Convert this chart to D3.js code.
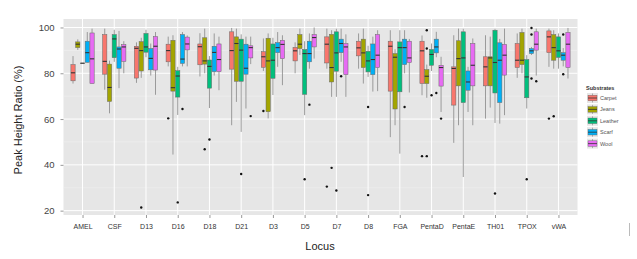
<!DOCTYPE html>
<html><head><meta charset="utf-8">
<script src="https://cdn.jsdelivr.net/npm/d3@7"></script>
<style>body{margin:0;background:#fff}svg{display:block}text{font-family:"Liberation Sans",Arial,sans-serif}</style>
</head><body>
<svg id="c" width="637" height="259"></svg>
<script>
const loci = ["AMEL","CSF","D13","D16","D18","D21","D3","D5","D7","D8","FGA","PentaD","PentaE","TH01","TPOX","vWA"];
const substrates = ["Carpet","Jeans","Leather","Scarf","Wool"];
const colors = ["#F8766D","#A3A500","#00BF7D","#00B0F6","#E76BF3"];
const yTicks = [20,40,60,80,100];
// [low whisker, Q1, median, Q3, high whisker] per locus
const carpet = [[75.5,76.7,80.2,83.8,87.5],[72.8,79.6,85.2,96.9,99.5],[75.8,77.9,90.9,91.8,93.5],[83,85,89.9,92.7,96],[78.6,83.7,91.6,92.8,97.5],[57.3,81.8,89.9,98.1,99.8],[81,82.6,87.2,89.4,95.2],[80,85.4,89.8,91.3,93.5],[82,84.5,92.7,95.9,99.5],[82,87.6,91.1,94,97.4],[52.1,72.2,91.8,94,98.8],[70.4,75.5,89.8,94,96.5],[49.6,66.1,82.1,82.8,96.6],[60.2,74.5,82.8,87.2,96.6],[78,82.5,85.7,93,97.4],[82.8,89,95.9,98.5,99.5]];
const jeans = [[90.2,91.2,92.7,93.7,94.8],[62.5,67.7,73.8,84,85.5],[78,81,89.9,93.8,95.5],[44.5,72.2,73.7,94.4,96.6],[80,84,85.4,95.5,99.5],[67.5,76.5,93,95.9,99.5],[60.3,63.2,85.4,95.3,97.4],[88,90.8,92.7,96.9,99.5],[69.7,76.2,82.5,97,98.8],[75.5,82.5,88.9,94.9,99.5],[57.3,64.4,87,88.6,90.5],[69.3,75.5,78.7,81.6,83.8],[57.3,74.5,86.4,94.2,99.5],[65,74.5,86.7,87.2,96],[80,83.8,85.7,97.8,99.5],[82,85.7,91.2,96.9,98.8]];
const leather = [[84.4,84.4,84.4,84.4,84.4],[85,86.8,95,96.9,99],[87,89.2,91.5,97.4,99],[61.8,69.6,78.8,81.1,82.8],[64.8,73.5,83,85.8,87.5],[54.4,76.5,90.1,94.9,97],[70.5,77.8,85.7,92.8,95.5],[61.7,70.8,88.6,90.4,94],[69.7,80.9,88.9,98.1,99.5],[78.4,80.6,85.4,89.6,92],[44.9,71.9,91.2,93.7,98.8],[81,83.5,88.2,90.4,93],[34.7,67.2,86.7,98.1,99.5],[58.3,71.4,84.7,98.8,99.5],[64.6,69.3,78.4,86,87.9],[82,86.9,89.8,95.9,97.4]];
const scarf = [[84.6,84.8,89,94,98],[73.5,82.2,90.6,91.5,98.5],[79,81.5,86.5,90.8,93],[83,84.3,86.2,96.9,98],[79,80.7,89.1,91.8,97.4],[64.6,79.6,82.2,92.7,96],[82.8,89,91.2,93.4,98],[82,85,88.6,94,97.4],[85,89,93,94.9,99.5],[72,79.4,86,92.8,96],[80,83.8,91.2,94.9,98.8],[87,88.9,91.5,94.9,98.1],[63.1,72.6,76.2,81,82.8],[58,67.2,85.7,93.3,95],[88,88.6,89.8,90.8,91.5],[83,85.7,87.9,89,91]];
const wool = [[75.4,75.5,86.3,97.6,99.5],[80,85.2,91.5,92.5,94],[70.6,81.4,91.8,96,98],[83,90.2,92.8,95.8,96.5],[72.6,80.7,86,92.8,96],[84,86.7,91.2,92,96],[74.8,86.4,92.6,94.4,96.6],[86.4,91.5,95.6,96.9,100],[69.7,79.4,91.5,93,97],[72.2,82.5,87.9,96.9,98.8],[71.6,84.7,86.7,94,95],[63.1,74.4,82.5,83.5,87.2],[57.3,74.5,83.5,93,95.2],[61.7,79.2,87.9,92.6,99.5],[79,90.1,92.7,98.1,99.5],[77.7,82.5,92.7,97.8,99.8]];
// outliers: [locus, substrate, value]
const outliers = [["D13","Jeans",21.4],["D16","Carpet",60.3],["D16","Leather",23.6],["D16","Scarf",64.4],["D18","Jeans",46.8],["D18","Leather",51.1],["D21","Leather",36],["D21","Wool",61.3],["D3","Carpet",63.5],["D5","Leather",33.7],["D5","Scarf",66.3],["D7","Carpet",30.5],["D7","Jeans",38.7],["D7","Leather",28.8],["D7","Scarf",78.7],["D8","Leather",65.3],["D8","Leather",26.8],["FGA","Scarf",65.3],["PentaD","Carpet",43.8],["PentaD","Jeans",43.8],["PentaD","Jeans",98.8],["PentaD","Jeans",90.8],["PentaD","Leather",70.4],["PentaD","Scarf",71.4],["PentaD","Wool",60.2],["TH01","Leather",27.5],["TPOX","Leather",33.7],["TPOX","Scarf",99.8],["TPOX","Scarf",96.9],["TPOX","Scarf",77.7],["TPOX","Wool",76.5],["vWA","Carpet",60.2],["vWA","Jeans",61.2],["vWA","Scarf",96.9],["vWA","Scarf",79.6]];

const series = [carpet, jeans, leather, scarf, wool];
const svg = d3.select("#c");
const P = {l:63.5, r:577.5, t:19, b:215};
const x = d3.scalePoint().domain(loci).range([P.l, P.r]).padding(0.6);
const step = x.step();
const xs = d3.scaleBand().domain(substrates).range([-step*0.375, step*0.375]);
const y = d3.scaleLinear().domain([18.1, 103.7]).range([P.b, P.t]);
const color = d3.scaleOrdinal().domain(substrates).range(colors);

svg.append("rect").attr("x",P.l).attr("y",P.t).attr("width",P.r-P.l).attr("height",P.b-P.t).attr("fill","#e6e6e6");
const g = svg.append("g");
[30,50,70,90].forEach(v=>g.append("line").attr("x1",P.l).attr("x2",P.r).attr("y1",y(v)).attr("y2",y(v)).attr("stroke","#f2f2f2").attr("stroke-width",0.5));
yTicks.forEach(v=>g.append("line").attr("x1",P.l).attr("x2",P.r).attr("y1",y(v)).attr("y2",y(v)).attr("stroke","#fff").attr("stroke-width",1));
loci.forEach(l=>g.append("line").attr("x1",x(l)).attr("x2",x(l)).attr("y1",P.t).attr("y2",P.b).attr("stroke","#fff").attr("stroke-width",1));

// axes
const yAxis = svg.append("g").attr("transform",`translate(${P.l},0)`).call(d3.axisLeft(y).tickValues(yTicks).tickSize(3).tickPadding(6));
yAxis.select(".domain").remove();
yAxis.selectAll("line").attr("stroke","#999");
yAxis.selectAll("text").attr("font-size","9.5px").attr("fill","#444");
const xAxis = svg.append("g").attr("transform",`translate(0,${P.b})`).call(d3.axisBottom(x).tickSize(3).tickPadding(6));
xAxis.select(".domain").remove();
xAxis.selectAll("line").attr("stroke","#999");
xAxis.selectAll("text").attr("font-size","7px").attr("fill","#333");

// boxes
const bw = xs.bandwidth();
series.forEach((arr, si) => {
  const s = substrates[si];
  arr.forEach((d, li) => {
    const cx = x(loci[li]) + xs(s) + bw/2;
    const [lo,q1,md,q3,hi] = d;
    g.append("line").attr("x1",cx).attr("x2",cx).attr("y1",y(hi)).attr("y2",y(q3)).attr("stroke","#9a9a9a").attr("stroke-width",1);
    g.append("line").attr("x1",cx).attr("x2",cx).attr("y1",y(q1)).attr("y2",y(lo)).attr("stroke","#9a9a9a").attr("stroke-width",1);
    g.append("rect").attr("x",cx-bw/2+0.25).attr("width",bw-0.5).attr("y",y(q3)).attr("height",Math.max(0.01,y(q1)-y(q3)))
      .attr("fill",color(s)).attr("stroke","#666").attr("stroke-width",0.5);
    g.append("line").attr("x1",cx-bw/2+0.25).attr("x2",cx+bw/2-0.25).attr("y1",y(md)).attr("y2",y(md)).attr("stroke","#333").attr("stroke-width",1.1);
  });
});
outliers.forEach(([l,s,v])=>{
  g.append("circle").attr("cx",x(l)+xs(s)+bw/2).attr("cy",y(v)).attr("r",1.2).attr("fill","#111");
});

// titles
svg.append("text").attr("x",320).attr("y",250).attr("text-anchor","middle").attr("font-size","11px").attr("fill","#222").text("Locus");
svg.append("text").attr("transform","translate(22,120) rotate(-90)").attr("text-anchor","middle").attr("font-size","11px").attr("fill","#222").text("Peak Height Ratio (%)");

// legend
const lg = svg.append("g").attr("transform","translate(586,0)");
lg.append("text").attr("x",0).attr("y",90).attr("font-size","5.5px").attr("font-weight","bold").attr("fill","#333").text("Substrates");
substrates.forEach((s,i)=>{
  const yy = 93 + i*11.4;
  lg.append("rect").attr("x",1).attr("y",yy).attr("width",11).attr("height",10).attr("fill","#e6e6e6");
  lg.append("line").attr("x1",6.5).attr("x2",6.5).attr("y1",yy+0.5).attr("y2",yy+9.5).attr("stroke","#9a9a9a").attr("stroke-width",0.8);
  lg.append("rect").attr("x",2).attr("y",yy+2.2).attr("width",9).attr("height",5.6).attr("fill",color(s)).attr("stroke","#666").attr("stroke-width",0.4);
  lg.append("line").attr("x1",2).attr("x2",11).attr("y1",yy+5).attr("y2",yy+5).attr("stroke","#333").attr("stroke-width",0.8);
  lg.append("text").attr("x",14).attr("y",yy+7).attr("font-size","5.5px").attr("fill","#555").text(s);
});
svg.append("line").attr("x1",629.5).attr("x2",629.5).attr("y1",223).attr("y2",236).attr("stroke","#bbb").attr("stroke-width",1);
</script>
</body></html>
